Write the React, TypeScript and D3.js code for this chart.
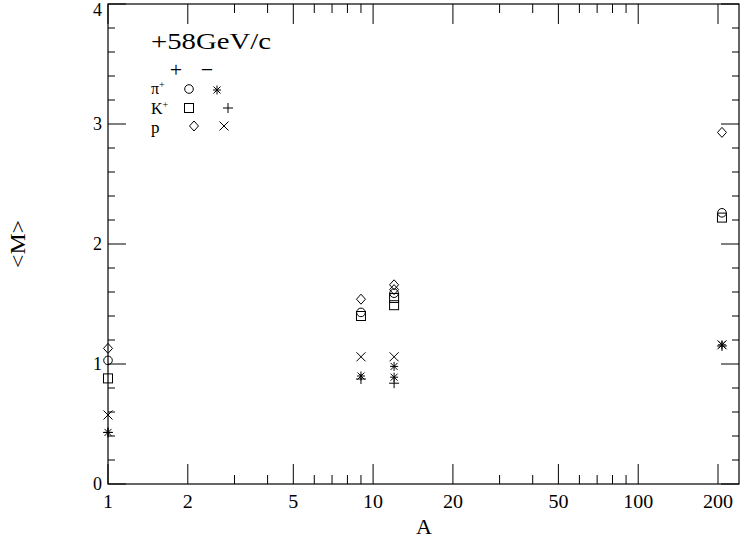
import { scaleLinear, scaleLog, range } from "d3";

// multiplicity <M> vs target mass number A, 58 GeV/c beam
const piPlusA = [1, 9, 12, 207];
const piPlusM = [1.03, 1.43, 1.59, 2.26];
const kPlusA = [1, 9, 12, 12, 207];
const kPlusM = [0.88, 1.4, 1.55, 1.49, 2.22];
const pPlusA = [1, 9, 12, 12, 207];
const pPlusM = [1.13, 1.54, 1.66, 1.62, 2.93];
const piMinusA = [1, 9, 12, 12, 207];
const piMinusM = [0.43, 0.9, 0.98, 0.89, 1.16];
const kMinusA = [1, 9, 12, 207];
const kMinusM = [0.43, 0.875, 0.84, 1.15];
const pMinusA = [1, 9, 12, 207];
const pMinusM = [0.575, 1.06, 1.06, 1.16];

const xMajorTicks = [1, 2, 5, 10, 20, 50, 100, 200];
const xMinorTicks = [3, 4, 6, 7, 8, 9, 30, 40, 60, 70, 80, 90];
const yMajorTicks = [0, 1, 2, 3, 4];

type MarkerType = "circle" | "square" | "diamond" | "star" | "plus" | "cross";

const series: { a: number[]; m: number[]; marker: MarkerType }[] = [
  { a: piPlusA, m: piPlusM, marker: "circle" },
  { a: kPlusA, m: kPlusM, marker: "square" },
  { a: pPlusA, m: pPlusM, marker: "diamond" },
  { a: piMinusA, m: piMinusM, marker: "star" },
  { a: kMinusA, m: kMinusM, marker: "plus" },
  { a: pMinusA, m: pMinusM, marker: "cross" },
];

function Marker({ type, cx, cy }: { type: MarkerType; cx: number; cy: number }) {
  const s = 4.5;
  const common = { fill: "none", stroke: "#000", strokeWidth: 1 };
  switch (type) {
    case "circle":
      return <circle cx={cx} cy={cy} r={4.3} {...common} />;
    case "square":
      return <rect x={cx - s} y={cy - s} width={2 * s} height={2 * s} {...common} />;
    case "diamond":
      return (
        <path
          d={`M${cx},${cy - 5}L${cx + 4.5},${cy}L${cx},${cy + 5}L${cx - 4.5},${cy}Z`}
          {...common}
        />
      );
    case "plus":
      return (
        <path d={`M${cx - 5},${cy}H${cx + 5}M${cx},${cy - 5}V${cy + 5}`} {...common} />
      );
    case "cross":
      return (
        <path
          d={`M${cx - s},${cy - s}L${cx + s},${cy + s}M${cx - s},${cy + s}L${cx + s},${cy - s}`}
          {...common}
        />
      );
    case "star":
      return (
        <path
          d={`M${cx - 4},${cy}H${cx + 4}M${cx},${cy - 4.5}V${cy + 4.5}M${cx - 3.5},${cy - 3.5}L${cx + 3.5},${cy + 3.5}M${cx - 3.5},${cy + 3.5}L${cx + 3.5},${cy - 3.5}`}
          {...common}
        />
      );
  }
}

export default function App() {
  const width = 742;
  const height = 540;
  const left = 108;
  const right = 739;
  const top = 4;
  const bottom = 484;

  const x = scaleLog().domain([1, 240]).range([left, right]);
  const y = scaleLinear().domain([0, 4]).range([bottom, top]);

  const yMinor = range(0, 4.001, 0.2).filter((v) => Math.abs(v - Math.round(v)) > 1e-6);

  const serif = "'Liberation Serif', 'DejaVu Serif', serif";

  return (
    <svg
      width={width}
      height={height}
      viewBox={`0 0 ${width} ${height}`}
      style={{ position: "absolute", left: 0, top: 0, background: "#fff" }}
    >
      <rect x={0} y={0} width={width} height={height} fill="#fff" />
      <rect
        x={left}
        y={top}
        width={right - left}
        height={bottom - top}
        fill="none"
        stroke="#000"
        strokeWidth={1.2}
      />
      <g stroke="#000" strokeWidth={1}>
        {xMajorTicks.map((t) => (
          <g key={`xM${t}`}>
            <line x1={x(t)} x2={x(t)} y1={bottom} y2={bottom - 20} />
            <line x1={x(t)} x2={x(t)} y1={top} y2={top + 20} />
          </g>
        ))}
        {xMinorTicks.map((t) => (
          <g key={`xm${t}`}>
            <line x1={x(t)} x2={x(t)} y1={bottom} y2={bottom - 9} />
            <line x1={x(t)} x2={x(t)} y1={top} y2={top + 9} />
          </g>
        ))}
        {yMajorTicks.map((t) => (
          <g key={`yM${t}`}>
            <line x1={left} x2={left + 18} y1={y(t)} y2={y(t)} />
            <line x1={right} x2={right - 18} y1={y(t)} y2={y(t)} />
          </g>
        ))}
        {yMinor.map((t) => (
          <g key={`ym${t}`}>
            <line x1={left} x2={left + 7} y1={y(t)} y2={y(t)} />
            <line x1={right} x2={right - 7} y1={y(t)} y2={y(t)} />
          </g>
        ))}
      </g>
      <g fontFamily={serif} fontSize={18} fill="#000">
        {xMajorTicks.map((t) => (
          <text
            key={`xl${t}`}
            x={x(t)}
            y={bottom + 24}
            textAnchor="middle"
            textLength={String(t).length * 10}
            lengthAdjust="spacingAndGlyphs"
          >
            {t}
          </text>
        ))}
        {yMajorTicks.map((t) => (
          <text
            key={`yl${t}`}
            x={left - 6}
            y={Math.max(y(t), 10)}
            textAnchor="end"
            dominantBaseline="central"
          >
            {t}
          </text>
        ))}
      </g>
      <text x={424} y={534} fontFamily={serif} fontSize={22} textAnchor="middle">
        A
      </text>
      <text
        transform={`translate(25,${(top + bottom) / 2}) rotate(-90)`}
        fontFamily={serif}
        fontSize={22}
        textAnchor="middle"
        textLength={48}
        lengthAdjust="spacingAndGlyphs"
      >
        {"<M>"}
      </text>

      {series.map((s, i) =>
        s.a.map((a, j) => (
          <Marker key={`${i}-${j}`} type={s.marker} cx={x(a)} cy={y(s.m[j])} />
        )),
      )}

      <g fontFamily={serif} fill="#000">
        <text x={151} y={49} fontSize={24} textLength={120} lengthAdjust="spacingAndGlyphs">
          +58GeV/c
        </text>
        <text x={176} y={77} fontSize={22} textAnchor="middle">
          +
        </text>
        <text x={207} y={77} fontSize={22} textAnchor="middle">
          −
        </text>
        <text x={151} y={94} fontSize={16}>
          π<tspan dy={-6} fontSize={10}>+</tspan>
        </text>
        <text x={151} y={114} fontSize={16}>
          K<tspan dy={-6} fontSize={10}>+</tspan>
        </text>
        <text x={151} y={133} fontSize={17}>
          p
        </text>
      </g>
      <Marker type="circle" cx={189} cy={89} />
      <Marker type="star" cx={217} cy={90} />
      <Marker type="square" cx={189} cy={108} />
      <Marker type="plus" cx={228} cy={108} />
      <Marker type="diamond" cx={194} cy={126} />
      <Marker type="cross" cx={224} cy={126} />
    </svg>
  );
}
